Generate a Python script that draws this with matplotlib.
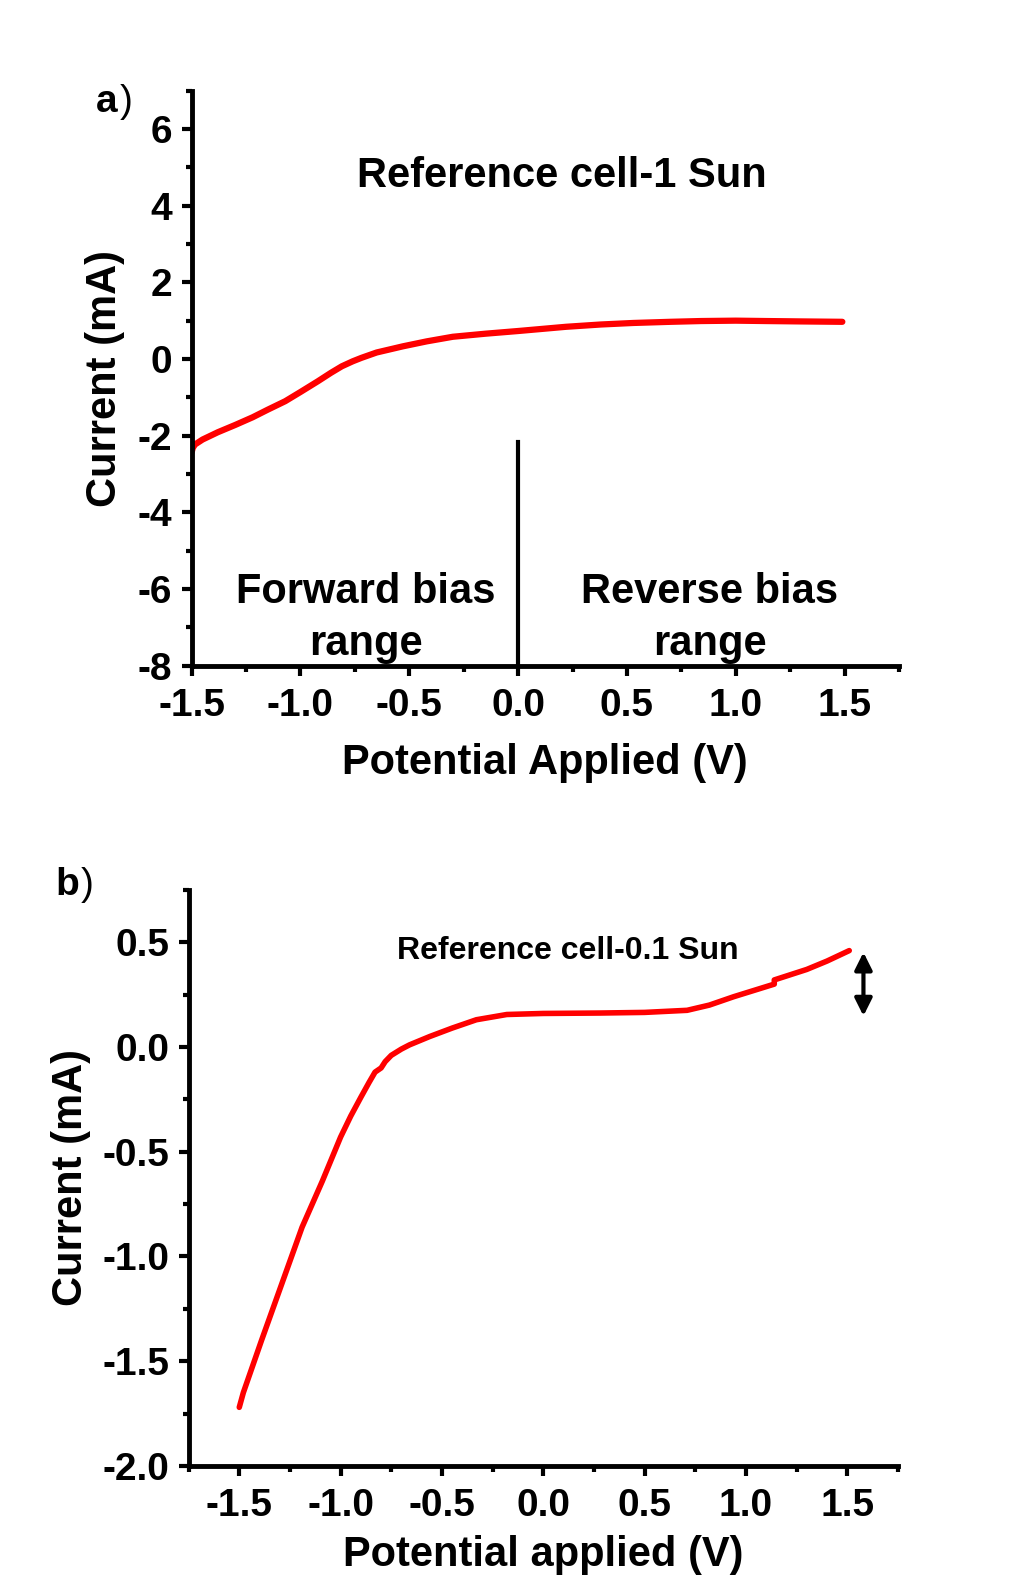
import matplotlib
matplotlib.use("Agg")
import matplotlib.pyplot as plt
from matplotlib.ticker import MultipleLocator, FormatStrFormatter

# panel a: reference cell under 1 sun
v_a = [-1.5, -1.495, -1.485, -1.45, -1.38, -1.30, -1.22, -1.15, -1.07, -1.00,
       -0.92, -0.86, -0.81, -0.76, -0.72, -0.65, -0.53, -0.42, -0.30, -0.15,
       0.0, 0.12, 0.22, 0.38, 0.53, 0.70, 0.84, 1.00, 1.14, 1.30, 1.49]
i_a = [-2.43, -2.32, -2.23, -2.10, -1.91, -1.72, -1.52, -1.32, -1.10, -0.86,
       -0.58, -0.36, -0.19, -0.06, 0.03, 0.17, 0.33, 0.46, 0.58, 0.66,
       0.73, 0.79, 0.84, 0.90, 0.94, 0.97, 0.99, 1.00, 0.99, 0.98, 0.97]

# panel b: reference cell under 0.1 sun
v_b = [-1.50, -1.48, -1.39, -1.29, -1.19, -1.09, -1.00, -0.95, -0.90, -0.86,
       -0.83, -0.80, -0.78, -0.75, -0.70, -0.66, -0.56, -0.45, -0.33, -0.18,
       0.0, 0.28, 0.50, 0.71, 0.82, 0.94, 1.04, 1.14, 1.14, 1.22, 1.30, 1.40,
       1.51]
i_b = [-1.72, -1.65, -1.40, -1.13, -0.86, -0.64, -0.43, -0.33, -0.24, -0.17,
       -0.12, -0.10, -0.07, -0.04, -0.01, 0.01, 0.05, 0.09, 0.13, 0.155,
       0.16, 0.162, 0.165, 0.175, 0.20, 0.24, 0.27, 0.30, 0.32, 0.345, 0.37,
       0.41, 0.46]

bias_line_v = [0.0, 0.0]
bias_line_i = [-8.0, -2.17]

plt.rcParams["font.family"] = ["Liberation Sans", "DejaVu Sans"]
plt.rcParams["font.weight"] = "bold"
plt.rcParams["axes.unicode_minus"] = False

RED = "#ff0000"


def style_axes(ax, xmaj, xmin, ymaj, ymin, yfmt):
    for side in ("top", "right"):
        ax.spines[side].set_visible(False)
    for side in ("left", "bottom"):
        ax.spines[side].set_linewidth(3.5)
    ax.xaxis.set_major_locator(MultipleLocator(xmaj))
    ax.xaxis.set_minor_locator(MultipleLocator(xmin))
    ax.yaxis.set_major_locator(MultipleLocator(ymaj))
    ax.yaxis.set_minor_locator(MultipleLocator(ymin))
    ax.xaxis.set_major_formatter(FormatStrFormatter("%.1f"))
    ax.yaxis.set_major_formatter(FormatStrFormatter(yfmt))
    ax.tick_params(which="major", length=7, width=3, labelsize=28, pad=7)
    ax.tick_params(axis="x", which="major", pad=9)
    ax.tick_params(which="minor", length=4, width=3)
    for lab in ax.get_xticklabels() + ax.get_yticklabels():
        lab.set_fontweight("bold")


fig = plt.figure(figsize=(10.25, 15.89), dpi=100)

ax1 = fig.add_axes([0.187, 0.581, 0.690, 0.362])
ax1.plot(v_a, i_a, color=RED, lw=4.5, solid_capstyle="round",
         solid_joinstyle="round")
ax1.plot(bias_line_v, bias_line_i, color="black", lw=3)
ax1.set_xlim(-1.5, 1.75)
ax1.set_ylim(-8, 7)
style_axes(ax1, 0.5, 0.25, 2, 1, "%d")
ax1.set_xlabel("Potential Applied (V)", fontsize=30, fontweight="bold", labelpad=14)
ax1.set_ylabel("Current (mA)", fontsize=30, fontweight="bold", labelpad=9)
ax1.text(0.20, 4.78, "Reference cell-1 Sun", fontsize=30, fontweight="bold",
         ha="center", va="center")
ax1.text(-0.70, -6.76, "Forward bias\nrange", fontsize=30, fontweight="bold",
         ha="center", va="center", linespacing=1.38)
ax1.text(0.88, -6.76, "Reverse bias\nrange", fontsize=30, fontweight="bold",
         ha="center", va="center", linespacing=1.38)

ax2 = fig.add_axes([0.184, 0.0774, 0.692, 0.3626])
ax2.plot(v_b, i_b, color=RED, lw=4, solid_capstyle="round",
         solid_joinstyle="round")
ax2.set_xlim(-1.75, 1.75)
ax2.set_ylim(-2.0, 0.75)
style_axes(ax2, 0.5, 0.25, 0.5, 0.25, "%.1f")
ax2.set_xlabel("Potential applied (V)", fontsize=30, fontweight="bold", labelpad=8)
ax2.set_ylabel("Current (mA)", fontsize=30, fontweight="bold", labelpad=8)
ax2.text(0.12, 0.46, "Reference cell-0.1 Sun", fontsize=23, fontweight="bold",
         ha="center", va="center")
ax2.annotate("", xy=(1.58, 0.135), xytext=(1.58, 0.465),
             arrowprops=dict(arrowstyle="<|-|>", color="black", lw=3,
                             mutation_scale=26))

# panel letters: bold letter, plain parenthesis
fig.text(0.094, 0.936, "a", fontsize=28, fontweight="bold", va="center")
fig.text(0.117, 0.936, ")", fontsize=28, fontweight="normal", va="center")
fig.text(0.054, 0.443, "b", fontsize=28, fontweight="bold", va="center")
fig.text(0.079, 0.443, ")", fontsize=28, fontweight="normal", va="center")

fig.savefig("out.png", dpi=100, facecolor="white")
